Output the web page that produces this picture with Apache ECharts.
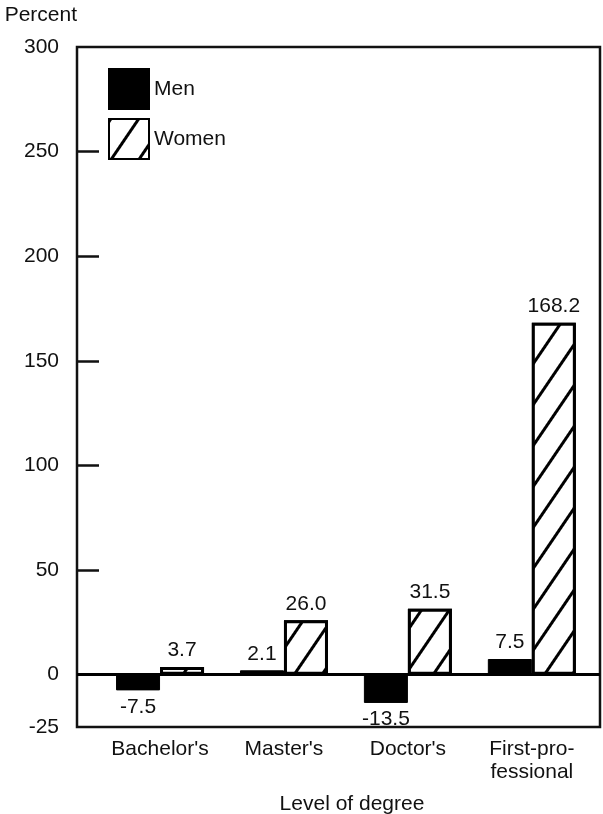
<!DOCTYPE html>
<html>
<head>
<meta charset="utf-8">
<script src="https://cdn.jsdelivr.net/npm/echarts@6/dist/echarts.min.js"></script>
<style>
html,body{margin:0;padding:0;background:#fff;}
#chart{width:603px;height:814px;}
</style>
</head>
<body>
<div id="chart"></div>
<script>
const categories = ["Bachelor's", "Master's", "Doctor's", "First-pro-\nfessional"];
const menValues = [-7.5, 2.1, -13.5, 7.5];
const womenValues = [3.7, 26.0, 31.5, 168.2];
const yTickLabels = [-25, 0, 50, 100, 150, 200, 250, 300];
const yTickMarks = [50, 100, 150, 200, 250];

const FONT = "'Liberation Sans', Arial, sans-serif";
const INK = '#111';
const FS = 21;

function toData(values) {
  return values.map((v, i) => ({
    value: [i, v],
    label: { position: v < 0 ? 'bottom' : 'top' }
  }));
}

const chart = echarts.init(document.getElementById('chart'), null, { renderer: 'canvas' });
chart.setOption({
  backgroundColor: '#fff',
  animation: false,
  textStyle: { fontFamily: FONT, color: INK },
  grid: {
    left: 77, right: 3, top: 47, bottom: 87,
    outerBoundsMode: 'none', containLabel: false,
    show: true, borderColor: INK, borderWidth: 2.5, backgroundColor: 'transparent'
  },
  legend: {
    orient: 'vertical', left: 103, top: 63,
    itemWidth: 40, itemHeight: 40, itemGap: 8,
    icon: 'rect',
    textStyle: { fontSize: FS, color: INK, fontFamily: FONT },
    data: ['Men', 'Women']
  },
  xAxis: {
    type: 'value', min: -0.67, max: 3.55,
    axisLine: { show: false },
    axisTick: { show: false },
    splitLine: { show: false },
    axisLabel: {
      customValues: [0, 1, 2, 3],
      formatter: v => categories[Math.round(v)],
      fontSize: FS, color: INK, fontFamily: FONT, margin: 11, lineHeight: 23
    },
    name: 'Level of degree', nameLocation: 'middle', nameGap: 67,
    nameTextStyle: { fontSize: FS, color: INK, fontFamily: FONT, padding: [0, 0, 0, 27] }
  },
  yAxis: {
    type: 'value', min: -25, max: 300,
    axisLine: { show: false, onZero: false },
    splitLine: { show: false },
    axisTick: {
      show: true, inside: true, length: 22, customValues: yTickMarks,
      lineStyle: { color: INK, width: 2.5 }
    },
    axisLabel: {
      customValues: yTickLabels, fontSize: FS, color: INK, fontFamily: FONT, margin: 18
    },
    name: 'Percent', nameLocation: 'end', nameGap: 21,
    nameTextStyle: { fontSize: FS, color: INK, fontFamily: FONT, align: 'right', padding: [0, 0, 0, 0] }
  },
  series: [
    {
      name: 'Men', type: 'bar', barWidth: 44, barGap: '0%',
      itemStyle: { color: '#000', borderColor: '#000', borderWidth: 1 },
      label: {
        show: true, fontSize: FS, color: INK, fontFamily: FONT, distance: 6,
        formatter: p => p.value[1].toFixed(1)
      },
      data: toData(menValues)
    },
    {
      name: 'Women', type: 'bar', barWidth: 44, barGap: '0%',
      itemStyle: {
        color: '#fff', borderColor: '#000', borderWidth: 3,
        decal: {
          symbol: 'rect', symbolSize: 1, color: '#000', backgroundColor: '#fff',
          dashArrayX: [1, 0], dashArrayY: [2.5, 20], rotation: -Math.PI * 0.31
        }
      },
      label: {
        show: true, fontSize: FS, color: INK, fontFamily: FONT, distance: 6,
        formatter: p => p.value[1].toFixed(1)
      },
      markLine: {
        silent: true, symbol: ['none', 'none'],
        label: { show: false },
        lineStyle: { color: '#000', width: 3, type: 'solid' },
        data: [{ yAxis: 0 }]
      },
      data: toData(womenValues)
    }
  ]
});
</script>
</body>
</html>
